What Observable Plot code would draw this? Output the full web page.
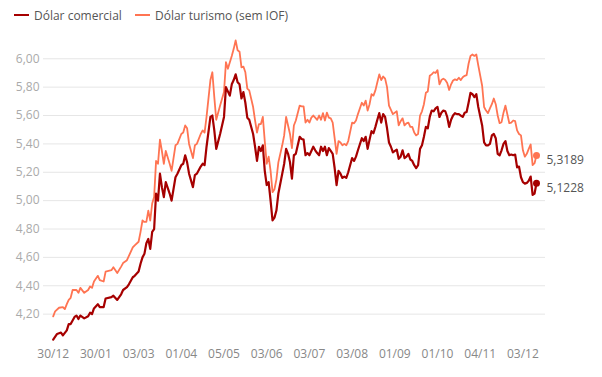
<!DOCTYPE html>
<html>
<head>
<meta charset="utf-8">
<script src="https://cdn.jsdelivr.net/npm/d3@7"></script>
<script src="https://cdn.jsdelivr.net/npm/@observablehq/plot@0.6"></script>
<style>
  html, body { margin: 0; padding: 0; background: #fff; }
  #wrap { width: 602px; height: 377px; position: relative; font-family: "Open Sans", sans-serif; }
  #legend { height: 30px; position: relative; font-size: 12px; color: #555; }
  .item { position: absolute; top: 0; height: 30px; display: flex; align-items: center; white-space: nowrap; }
  .sw { display: inline-block; width: 15px; height: 2px; margin-right: 5px; }
</style>
</head>
<body>
<div id="wrap">
  <div id="legend"></div>
  <div id="chart"></div>
</div>
<script>
const seriesNames = ["Dólar comercial", "Dólar turismo (sem IOF)"];
const seriesColors = ["#a60000", "#ff7452"];

const xTicks = [0, 22, 44, 66, 88, 110, 132, 154, 176, 198, 220, 242];
const xTickLabels = ["30/12", "30/01", "03/03", "01/04", "05/05", "03/06", "03/07", "03/08", "01/09", "01/10", "04/11", "03/12"];
const yTicks = [4.2, 4.4, 4.6, 4.8, 5.0, 5.2, 5.4, 5.6, 5.8, 6.0];

// trading-day index of each reading
const comercialDay = [0,2,4,5,7,8,9,11,12,13,14,16,18,19,20,21,23,24,26,27,30,31,33,35,36,38,39,41,42,44,45,46,47,48,49,50,51,52,53,54,55,56,57,58,60,61,63,64,66,67,68,69,70,72,73,74,76,77,78,79,81,82,83,84,86,88,89,91,92,93,94,95,96,97,98,99,100,101,103,104,105,106,107,108,109,110,111,112,113,114,115,116,118,119,120,121,122,123,124,125,127,128,129,130,131,132,133,134,135,136,137,138,139,140,141,142,143,144,145,146,147,148,149,150,151,152,154,155,156,157,159,160,161,162,163,164,165,166,167,168,169,170,171,172,173,174,175,177,178,179,180,181,182,183,184,185,186,187,188,189,190,191,192,193,194,195,196,197,198,199,200,201,202,203,204,205,206,207,208,209,210,211,212,213,214,215,216,217,218,219,221,222,223,224,225,226,227,228,229,230,231,232,233,234,235,236,237,238,239,240,241,242,243,244,245,246,247,248,249];
const comercialValue = [4.02,4.06,4.07,4.05,4.085,4.13,4.13,4.18,4.19,4.165,4.19,4.17,4.185,4.21,4.20,4.24,4.27,4.25,4.25,4.31,4.32,4.33,4.30,4.34,4.37,4.39,4.41,4.46,4.47,4.50,4.555,4.60,4.625,4.70,4.73,4.66,4.78,4.80,5.05,5.00,5.19,5.095,5.025,5.13,5.05,5.00,5.165,5.19,5.25,5.26,5.32,5.27,5.19,5.095,5.18,5.19,5.24,5.26,5.25,5.38,5.59,5.60,5.495,5.365,5.47,5.59,5.80,5.74,5.82,5.85,5.89,5.835,5.82,5.72,5.765,5.69,5.585,5.57,5.47,5.38,5.28,5.38,5.35,5.39,5.21,5.11,5.13,5.00,4.86,4.88,4.93,5.05,5.19,5.26,5.365,5.33,5.27,5.155,5.32,5.33,5.45,5.435,5.43,5.32,5.335,5.32,5.35,5.38,5.355,5.335,5.32,5.38,5.35,5.38,5.32,5.37,5.35,5.33,5.23,5.11,5.21,5.19,5.16,5.17,5.16,5.20,5.30,5.28,5.31,5.355,5.44,5.42,5.45,5.365,5.43,5.49,5.475,5.52,5.57,5.617,5.55,5.61,5.59,5.51,5.41,5.38,5.34,5.36,5.295,5.31,5.355,5.30,5.31,5.33,5.29,5.28,5.25,5.23,5.25,5.365,5.39,5.45,5.52,5.51,5.59,5.635,5.63,5.65,5.66,5.59,5.62,5.635,5.63,5.59,5.52,5.57,5.60,5.617,5.61,5.61,5.60,5.59,5.62,5.625,5.69,5.76,5.75,5.73,5.75,5.66,5.53,5.41,5.39,5.39,5.40,5.46,5.47,5.44,5.33,5.32,5.355,5.40,5.42,5.35,5.32,5.325,5.32,5.325,5.235,5.24,5.165,5.13,5.12,5.125,5.14,5.17,5.04,5.05,5.1228];

const turismoDay = [0,1,3,5,6,7,8,9,10,12,13,14,16,18,19,20,21,23,24,26,27,30,31,33,35,36,38,39,41,42,44,45,46,47,48,49,50,51,52,53,54,55,56,57,58,60,61,63,64,66,67,68,69,70,72,73,74,76,77,78,79,81,82,83,84,86,88,89,90,92,93,94,95,96,97,98,99,100,101,103,104,105,106,107,108,109,110,111,112,113,114,115,116,118,119,120,121,122,123,124,125,127,128,129,130,131,132,133,134,135,136,137,138,139,140,141,142,143,144,145,146,147,148,149,150,151,152,154,155,156,157,159,160,161,162,163,164,165,166,167,168,169,170,171,172,173,174,175,177,178,179,180,181,182,183,184,185,186,187,188,189,190,191,192,193,194,195,196,197,198,199,200,201,202,203,204,205,206,207,208,209,210,211,212,213,214,215,216,217,218,219,221,222,223,224,225,226,227,228,229,230,231,232,233,234,235,236,237,238,239,240,241,242,243,244,245,246,247,248,249];
const turismoValue = [4.184,4.22,4.245,4.25,4.235,4.27,4.30,4.315,4.37,4.37,4.35,4.385,4.35,4.37,4.395,4.385,4.43,4.47,4.44,4.43,4.50,4.51,4.53,4.49,4.535,4.56,4.58,4.61,4.67,4.685,4.71,4.78,4.86,4.85,4.85,4.93,4.86,4.98,5.025,5.28,5.26,5.43,5.35,5.26,5.35,5.26,5.21,5.39,5.40,5.47,5.48,5.53,5.51,5.40,5.30,5.39,5.40,5.47,5.495,5.48,5.59,5.85,5.905,5.73,5.57,5.67,5.765,5.976,5.93,6.02,6.07,6.13,6.06,6.05,5.94,5.945,5.905,5.79,5.777,5.66,5.565,5.48,5.54,5.54,5.59,5.42,5.26,5.31,5.21,5.06,5.08,5.15,5.27,5.39,5.46,5.59,5.53,5.47,5.37,5.53,5.565,5.67,5.665,5.665,5.55,5.57,5.55,5.585,5.60,5.585,5.57,5.60,5.57,5.617,5.565,5.62,5.585,5.58,5.55,5.44,5.33,5.42,5.41,5.39,5.40,5.39,5.42,5.55,5.545,5.565,5.61,5.69,5.67,5.705,5.635,5.68,5.75,5.74,5.777,5.835,5.89,5.85,5.875,5.86,5.80,5.67,5.64,5.61,5.63,5.53,5.56,5.58,5.53,5.545,5.55,5.52,5.52,5.48,5.46,5.47,5.60,5.63,5.68,5.76,5.77,5.88,5.89,5.905,5.90,5.92,5.82,5.85,5.86,5.85,5.83,5.78,5.82,5.847,5.855,5.85,5.866,5.85,5.87,5.88,5.885,5.965,6.02,6.03,6.02,6.03,5.953,5.81,5.66,5.635,5.617,5.65,5.68,5.72,5.68,5.60,5.546,5.553,5.62,5.67,5.607,5.546,5.55,5.565,5.56,5.495,5.47,5.46,5.355,5.31,5.33,5.365,5.396,5.25,5.264,5.3189];

const lastLabels = ["5,1228", "5,3189"];

// build tables
const comercial = comercialDay.map((d, k) => ({day: d, value: comercialValue[k]}));
const turismo = turismoDay.map((d, k) => ({day: d, value: turismoValue[k]}));
const lastPoints = [
  {day: comercialDay[comercialDay.length - 1], value: comercialValue[comercialValue.length - 1], label: lastLabels[0], color: seriesColors[0]},
  {day: turismoDay[turismoDay.length - 1], value: turismoValue[turismoValue.length - 1], label: lastLabels[1], color: seriesColors[1]}
];

// legend
const legend = document.getElementById("legend");
const legendX = [14, 135];
seriesNames.forEach((name, k) => {
  const it = document.createElement("div");
  it.className = "item";
  it.style.left = legendX[k] + "px";
  const sw = document.createElement("span");
  sw.className = "sw";
  sw.style.background = seriesColors[k];
  it.appendChild(sw);
  it.appendChild(document.createTextNode(name));
  legend.appendChild(it);
});

const fmtY = d => d.toFixed(2).replace(".", ",");

const chart = Plot.plot({
  width: 602,
  height: 347,
  marginTop: 7,
  marginBottom: 35,
  marginLeft: 43,
  marginRight: 57,
  style: {fontFamily: "'Open Sans', sans-serif", fontSize: "12px", background: "transparent", overflow: "visible"},
  x: {type: "linear", domain: [0, 249], insetLeft: 9.7, insetRight: 9},
  y: {domain: [4.0, 6.15]},
  marks: [
    Plot.gridY(yTicks, {stroke: "#e6e6e6", strokeOpacity: 1, strokeWidth: 1}),
    Plot.axisY(yTicks, {tickSize: 0, tickPadding: 4, tickFormat: fmtY, color: "#aaa", fontSize: 12, label: null}),
    Plot.axisX(xTicks, {tickSize: 0, tickPadding: 7, tickFormat: d => xTickLabels[xTicks.indexOf(d)], color: "#888", fontSize: 12, label: null}),
    Plot.line(turismo, {x: "day", y: "value", stroke: seriesColors[1], strokeWidth: 1.8}),
    Plot.line(comercial, {x: "day", y: "value", stroke: seriesColors[0], strokeWidth: 2.2}),
    Plot.dot(lastPoints, {x: "day", y: "value", fill: "color", r: 3.5}),
    Plot.text(lastPoints, {x: "day", y: "value", text: "label", textAnchor: "start", dx: 10, dy: 5, fill: "#555", fontSize: 12})
  ]
});
document.getElementById("chart").appendChild(chart);
</script>
</body>
</html>
